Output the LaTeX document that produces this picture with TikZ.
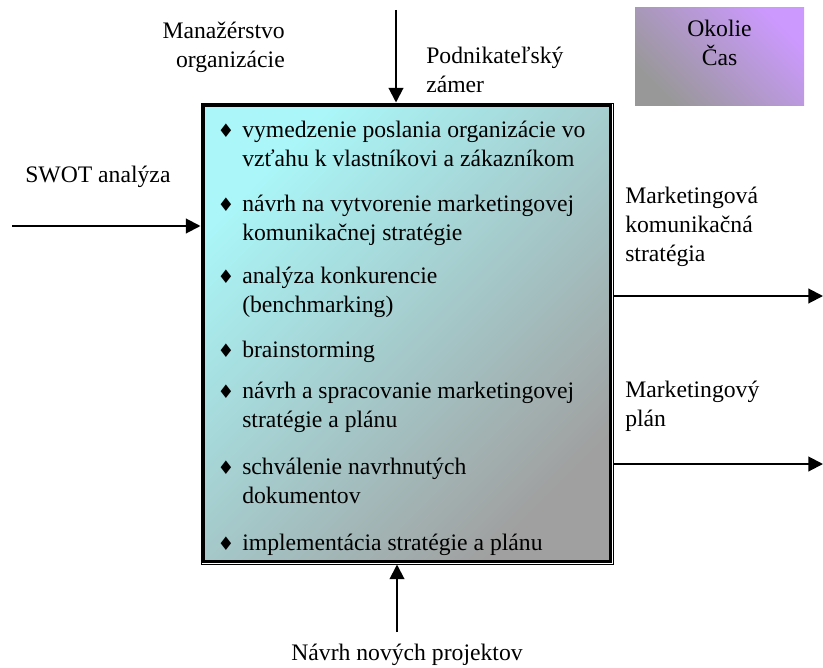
\documentclass[tikz,border=0pt]{standalone}
\usepackage{fontspec}
\setmainfont{Liberation Serif}
\newfontfamily\bulletfont{DejaVu Sans}
\usetikzlibrary{arrows.meta}

\definecolor{boxtop}{RGB}{170,246,248}
\definecolor{boxbottom}{RGB}{160,160,160}
\definecolor{envtop}{RGB}{204,153,255}
\definecolor{envbottom}{RGB}{152,152,152}

% bullet hung to the left of an item
\newcommand{\itm}{\llap{{\bulletfont\fontsize{14}{14}\selectfont ♦}\hspace{6pt}}}

\tikzset{
  lbl/.style={inner sep=0pt, font=\fontsize{17.75}{21.4}\selectfont},
  item/.style={lbl, anchor=base west, align=left},
  arr/.style={line width=1.5pt, -{Triangle[length=11pt,width=11pt]}},
}

\begin{document}
\begin{tikzpicture}[x=0.75pt, y=-0.75pt]
  \useasboundingbox (0,0) rectangle (823,667);

  % central activity box with double frame
  \node[draw, fill=white, line width=0.75pt, inner sep=0pt,
        minimum width={412*0.75pt}, minimum height={461*0.75pt}]
        (main) at (407,333.5) {};
  \shade[top color=boxtop, bottom color=boxbottom, shading angle=45]
        ([shift={(3.2,-3.2)}]main.south west) rectangle ([shift={(-3.2,3.2)}]main.north east);
  \draw[line width=2pt]
        ([shift={(3.2,-3.2)}]main.south west) rectangle ([shift={(-3.2,3.2)}]main.north east);

  % environment box
  \node[inner sep=0pt, minimum width={169*0.75pt}, minimum height={97*0.75pt},
        top color=envtop, bottom color=envbottom, shading angle=-45]
        (env) at (719.5,56.5) {};
  % (base anchor of a multi-line node sits on its last line)
  \node[lbl, anchor=base, align=center] (envtext) at (719.5,65) {Okolie\\Čas};

  % activities
  \node[item] (i1) at (242,166) {\itm vymedzenie poslania organizácie vo\\vzťahu k vlastníkovi a zákazníkom};
  \node[item] (i2) at (242,240) {\itm návrh na vytvorenie marketingovej\\komunikačnej stratégie};
  \node[item] (i3) at (242,312) {\itm analýza konkurencie\\(benchmarking)};
  \node[item] (i4) at (242,357) {\itm brainstorming};
  \node[item] (i5) at (242,427) {\itm návrh a spracovanie marketingovej\\stratégie a plánu};
  \node[item] (i6) at (242,503) {\itm schválenie navrhnutých\\dokumentov};
  \node[item] (i7) at (242,550) {\itm implementácia stratégie a plánu};

  % labels of the flows
  \node[lbl, anchor=base east, align=right] (ctrl1) at (285,67) {Manažérstvo\\organizácie};
  \node[lbl, anchor=base west, align=left] (ctrl2) at (426,92) {Podnikateľský\\zámer};
  \node[lbl, anchor=base west] (input) at (25,182) {SWOT analýza};
  \node[lbl, anchor=base west, align=left] (out1) at (625,261) {Marketingová\\komunikačná\\stratégia};
  \node[lbl, anchor=base west, align=left] (out2) at (625,426) {Marketingový\\plán};
  \node[lbl, anchor=base] (mech) at (407,660) {Návrh nových projektov};

  % free ends of the flows
  \coordinate (ctrlin) at (396,10);
  \coordinate (inin) at (12,226);
  \coordinate (out1end) at (823,296);
  \coordinate (out2end) at (823,464);
  \coordinate (mechin) at (397,632);

  \draw[arr] (ctrlin) -- (ctrlin |- main.north);
  \draw[arr] (inin) -- (inin -| main.west);
  \draw[arr] (out1end -| main.east) -- (out1end);
  \draw[arr] (out2end -| main.east) -- (out2end);
  \draw[arr] (mechin) -- (mechin |- main.south);
\end{tikzpicture}
\end{document}
